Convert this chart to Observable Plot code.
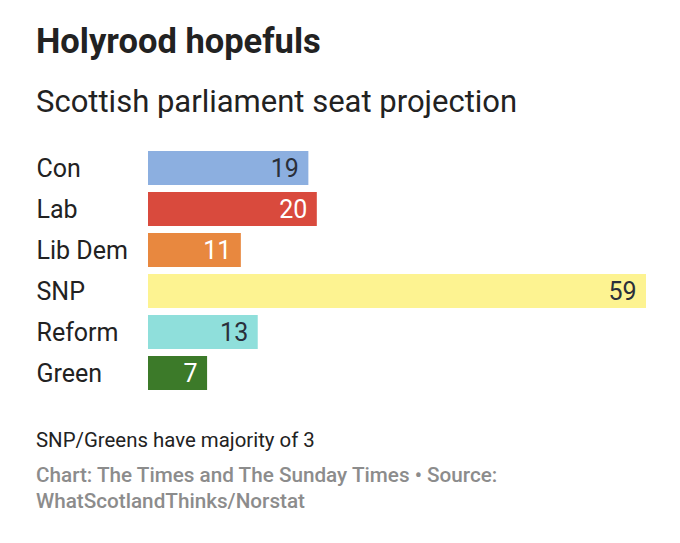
<!DOCTYPE html>
<html>
<head>
<meta charset="utf-8">
<script src="https://cdn.jsdelivr.net/npm/d3@7"></script>
<script src="https://cdn.jsdelivr.net/npm/@observablehq/plot@0.6"></script>
<style>
  body { margin: 0; background: #fff; font-family: Roboto, "Noto Sans", sans-serif; }
  #wrap { position: relative; width: 680px; height: 543px; overflow: hidden; }
  .t { position: absolute; left: 36px; white-space: nowrap; }
  #title { top: 24px; font-size: 34.5px; line-height: 34.5px; font-weight: 700; color: #222; }
  #subtitle { top: 86px; font-size: 31px; line-height: 31px; color: #222; }
  #note { top: 430px; font-size: 20.4px; line-height: 20.4px; color: #222; }
  #source { top: 462px; font-size: 20.7px; line-height: 26px; color: #8c8c8c; font-weight: 500; }
  #chart { position: absolute; left: 0; top: 140px; }
</style>
</head>
<body>
<div id="wrap">
  <div class="t" id="title">Holyrood hopefuls</div>
  <div class="t" id="subtitle">Scottish parliament seat projection</div>
  <div id="chart"></div>
  <div class="t" id="note">SNP/Greens have majority of 3</div>
  <div class="t" id="source">Chart: The Times and The Sunday Times • Source:<br>WhatScotlandThinks/Norstat</div>
</div>
<script>
const parties = ["Con", "Lab", "Lib Dem", "SNP", "Reform", "Green"];
const seats = [19, 20, 11, 59, 13, 7];
const barColors = ["#8cafe0", "#d94a3d", "#e8883f", "#fdf391", "#8fdfdb", "#3c7a29"];
const labelColors = ["#2a2f3a", "#ffffff", "#ffffff", "#2a2f3a", "#2a2f3a", "#ffffff"];

const rows = parties.map((p, i) => ({party: p, seats: seats[i], color: barColors[i], label: labelColors[i]}));

const chart = Plot.plot({
  width: 680,
  height: 251,
  marginTop: 9,
  marginBottom: 0,
  marginLeft: 148,
  marginRight: 34,
  style: {fontFamily: "Roboto, sans-serif", background: "transparent"},
  x: {domain: [0, 59], axis: null},
  y: {domain: parties, padding: 0.18, paddingOuter: 0, label: null},
  marks: [
    Plot.barX(rows, {x: "seats", y: "party", fill: "color"}),
    Plot.text(rows, {x: "seats", y: "party", text: d => String(d.seats), fill: "label", textAnchor: "end", dx: -10, fontSize: 25}),
    Plot.axisY({tickSize: 0, tickPadding: 112, textAnchor: "start", fontSize: 25, fill: "#222", label: null})
  ]
});
document.getElementById("chart").appendChild(chart);
</script>
</body>
</html>
